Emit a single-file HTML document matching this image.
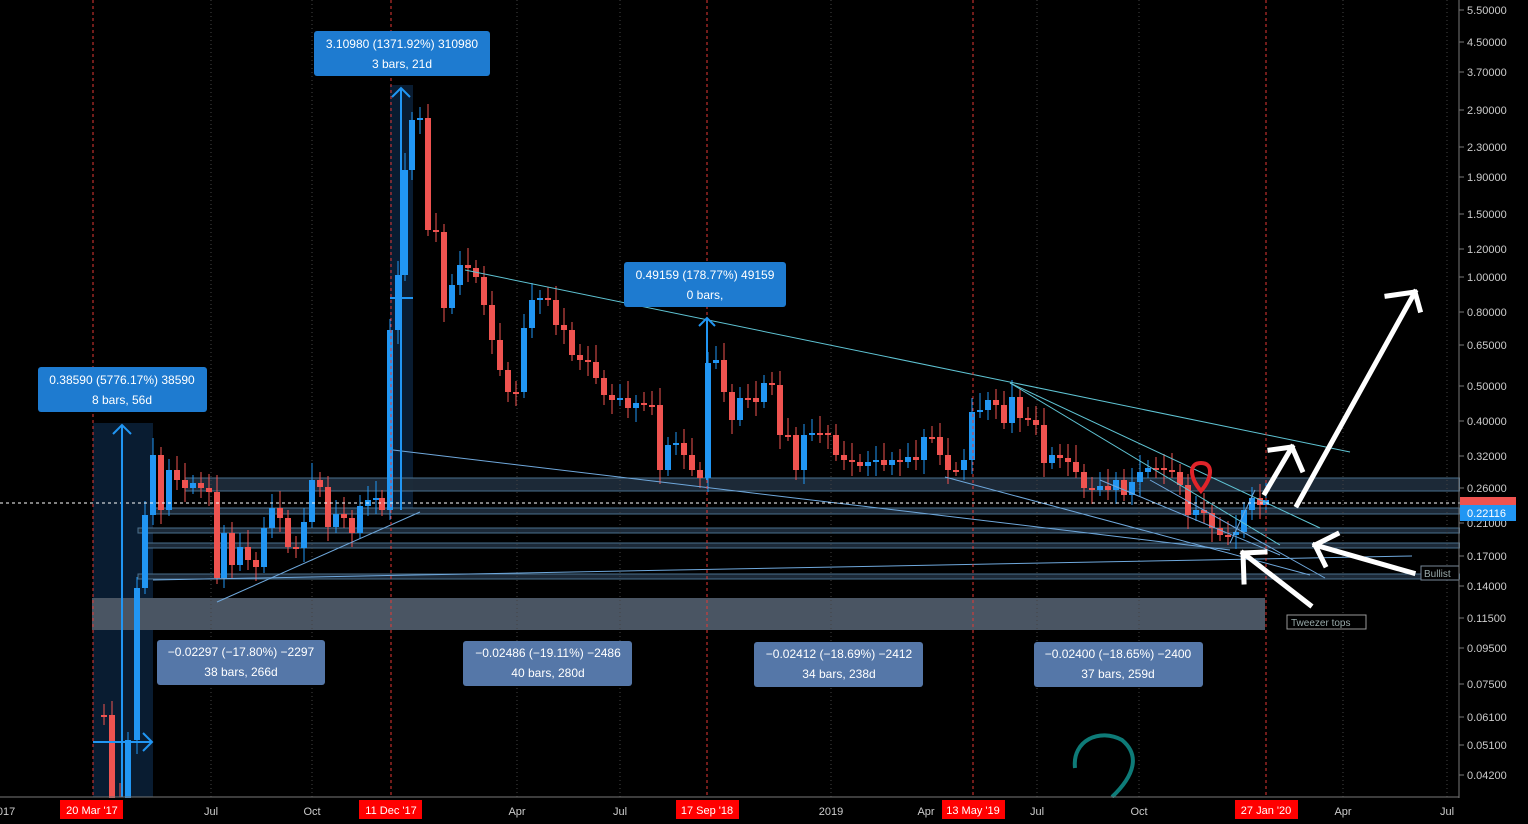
<!DOCTYPE html>
<html><head><meta charset="utf-8"><style>
html,body{margin:0;padding:0;background:#000;width:1528px;height:824px;overflow:hidden}
svg{display:block;font-family:"Liberation Sans",sans-serif}
</style></head><body>
<svg id="s" width="1528" height="824" viewBox="0 0 1528 824" xmlns="http://www.w3.org/2000/svg">
<rect width="1528" height="824" fill="#000"/>
<rect x="93" y="423" width="60" height="374" fill="#0a1f36" opacity="0.9"/>
<rect x="390" y="85" width="23" height="425" fill="#0a1f36" opacity="0.9"/>
<rect x="92" y="598" width="1173" height="32" fill="#4a5563"/>
<g fill="#1e2c3a" stroke="#4f7594" stroke-width="1" opacity="0.95">
<rect x="185" y="478" width="1275" height="13"/>
<rect x="153" y="508" width="1307" height="6"/>
<rect x="138" y="528" width="1322" height="5"/>
<rect x="146" y="543" width="1314" height="5"/>
<rect x="138" y="574" width="1322" height="5"/>
</g>
<g id="grid" stroke="#444" stroke-dasharray="1,3"></g>
<g id="c"></g>
<g stroke="#5fc4d4" stroke-width="1" fill="none">
<line x1="465" y1="270" x2="1350" y2="452"/>
<line x1="1010" y1="383" x2="1320" y2="528"/>
<line x1="1010" y1="383" x2="1280" y2="545"/>
</g>
<g stroke="#6fa8dc" stroke-width="1" fill="none">
<line x1="393" y1="450" x2="1230" y2="550"/>
<line x1="153" y1="580" x2="1412" y2="556"/>
<line x1="217" y1="602" x2="420" y2="512"/>
<line x1="945" y1="477" x2="1310" y2="575"/>
<line x1="1150" y1="480" x2="1325" y2="578"/>
<line x1="1100" y1="480" x2="1280" y2="555"/>
<line x1="1230" y1="543" x2="1255" y2="490"/>
</g>
<line x1="0" y1="503" x2="1460" y2="503" stroke="#fff" stroke-dasharray="3,3"/>
<g stroke="#e53935" stroke-dasharray="3,3">
<line x1="93" y1="0" x2="93" y2="797"/><line x1="391" y1="0" x2="391" y2="797"/>
<line x1="707" y1="0" x2="707" y2="797"/><line x1="973" y1="0" x2="973" y2="797"/>
<line x1="1266" y1="0" x2="1266" y2="797"/>
</g>
<g stroke="#2196f3" stroke-width="2" fill="none">
<line x1="122" y1="425" x2="122" y2="797"/><polyline points="113,434 122,425 131,434"/>
<line x1="93" y1="742" x2="152" y2="742"/><polyline points="143,733 152,742 143,751"/>
<line x1="401" y1="88" x2="401" y2="510"/><polyline points="392,97 401,88 410,97"/>
<line x1="390" y1="298" x2="413" y2="298"/>
<line x1="707" y1="318" x2="707" y2="480"/><polyline points="699,326 707,318 715,326"/>
</g>
<g font-size="12" fill="#fff" text-anchor="middle">
<rect x="38" y="367" width="169" height="45" rx="3" fill="#1e7bd0"/>
<text x="122" y="384">0.38590 (5776.17%) 38590</text><text x="122" y="404">8 bars, 56d</text>
<rect x="314" y="31" width="176" height="45" rx="3" fill="#1e7bd0"/>
<text x="402" y="48">3.10980 (1371.92%) 310980</text><text x="402" y="68">3 bars, 21d</text>
<rect x="624" y="262" width="162" height="45" rx="3" fill="#1e7bd0"/>
<text x="705" y="279">0.49159 (178.77%) 49159</text><text x="705" y="299">0 bars,</text>
<rect x="157" y="640" width="168" height="45" rx="3" fill="#5577a8"/>
<text x="241" y="656">−0.02297 (−17.80%) −2297</text><text x="241" y="676">38 bars, 266d</text>
<rect x="463" y="641" width="169" height="45" rx="3" fill="#5577a8"/>
<text x="548" y="657">−0.02486 (−19.11%) −2486</text><text x="548" y="677">40 bars, 280d</text>
<rect x="754" y="642" width="169" height="45" rx="3" fill="#5577a8"/>
<text x="839" y="658">−0.02412 (−18.69%) −2412</text><text x="839" y="678">34 bars, 238d</text>
<rect x="1034" y="642" width="169" height="45" rx="3" fill="#5577a8"/>
<text x="1118" y="658">−0.02400 (−18.65%) −2400</text><text x="1118" y="678">37 bars, 259d</text>
</g>
<g stroke="#fff" stroke-width="5" fill="none" stroke-linecap="square">
<line x1="1297" y1="505" x2="1415" y2="292"/><polyline points="1387,296 1415,292 1420,310"/>
<line x1="1265" y1="493" x2="1292" y2="447"/><polyline points="1270,450 1292,447 1302,470"/>
<line x1="1413" y1="573" x2="1315" y2="545"/><polyline points="1325,565 1315,545 1337,534"/>
<line x1="1310" y1="605" x2="1243" y2="553"/><polyline points="1244,582 1243,553 1265,552"/>
</g>
<path d="M1201,491 C1190,478 1188,463 1201,463 C1214,463 1212,478 1201,491Z" fill="none" stroke="#e0242a" stroke-width="4"/>
<path d="M1075,768 C1072,740 1100,728 1122,740 C1140,755 1135,775 1112,797" fill="none" stroke="#0e7b78" stroke-width="4"/>
<g font-size="10" fill="#9aa">
<rect x="1287" y="615" width="79" height="14" fill="#000" stroke="#999"/><text x="1291" y="626">Tweezer tops</text>
<rect x="1421" y="566" width="38" height="14" fill="#000" stroke="#789"/><text x="1424" y="577">Bullist</text>
</g>
<rect x="1460" y="0" width="68" height="824" fill="#000"/>
<line x1="1459" y1="0" x2="1459" y2="824" stroke="#777"/>
<rect x="0" y="798" width="1460" height="26" fill="#000"/>
<line x1="0" y1="797" x2="1459" y2="797" stroke="#777"/>
<g id="yax" font-size="11" fill="#ccc"></g>
<rect x="1460" y="497" width="56" height="9" fill="#ef5350"/>
<rect x="1460" y="505" width="56" height="16" fill="#2196f3"/>
<text x="1467" y="517" font-size="11" fill="#fff">0.22116</text>
<g font-size="11" fill="#ccc" text-anchor="middle">
<text x="6" y="815">017</text><text x="211" y="815">Jul</text><text x="312" y="815">Oct</text>
<text x="517" y="815">Apr</text><text x="620" y="815">Jul</text><text x="831" y="815">2019</text>
<text x="926" y="815">Apr</text><text x="1037" y="815">Jul</text><text x="1139" y="815">Oct</text>
<text x="1343" y="815">Apr</text><text x="1447" y="815">Jul</text>
</g>
<g font-size="11" fill="#fff" text-anchor="middle">
<rect x="60" y="800" width="63" height="19" fill="#f00"/><text x="92" y="814">20 Mar '17</text>
<rect x="359" y="800" width="63" height="19" fill="#f00"/><text x="391" y="814">11 Dec '17</text>
<rect x="676" y="800" width="63" height="19" fill="#f00"/><text x="707" y="814">17 Sep '18</text>
<rect x="942" y="800" width="63" height="19" fill="#f00"/><text x="973" y="814">13 May '19</text>
<rect x="1235" y="800" width="63" height="19" fill="#f00"/><text x="1266" y="814">27 Jan '20</text>
</g>
</svg>
<script>
(function(){
var NS="http://www.w3.org/2000/svg";
function el(p,t,a){var e=document.createElementNS(NS,t);for(var k in a)e.setAttribute(k,a[k]);p.appendChild(e);return e;}
var ticks=[["5.50000",10],["4.50000",42],["3.70000",72],["2.90000",110],["2.30000",147],["1.90000",177],["1.50000",214],["1.20000",249],["1.00000",277],["0.80000",312],["0.65000",345],["0.50000",386],["0.40000",421],["0.32000",456],["0.26000",488],["0.21000",523],["0.17000",556],["0.14000",586],["0.11500",618],["0.09500",648],["0.07500",684],["0.06100",717],["0.05100",745],["0.04200",775]];
var yg=document.getElementById("yax");
ticks.forEach(function(t){el(yg,"line",{x1:1459,y1:t[1],x2:1464,y2:t[1],stroke:"#777"});var tx=el(yg,"text",{x:1467,y:t[1]+4});tx.textContent=t[0];});
var g=document.getElementById("grid");
[211,312,517,620,831,1037,1139,1343,1447].forEach(function(x){el(g,"line",{x1:x,y1:0,x2:x,y2:797});});
var pts=[[96,715],[104,715],[112,800],[120,800],[128,740],[137,588],[145,515],[153,455],[161,510],[169,470],[177,480],[185,488],[193,483],[201,488],[209,492],[217,578],[224,533],[232,565],[240,547],[248,560],[256,567],[264,528],[272,508],[280,518],[288,547],[296,548],[304,522],[312,480],[320,487],[328,527],[336,514],[344,518],[352,533],[360,506],[368,500],[376,498],[382,510],[390,330],[398,275],[405,170],[412,120],[420,118],[428,230],[436,232],[444,308],[452,285],[460,265],[468,268],[476,277],[484,305],[492,340],[500,370],[508,392],[516,392],[524,328],[532,300],[540,298],[548,300],[556,325],[564,330],[572,355],[580,360],[588,362],[596,378],[604,395],[612,400],[620,398],[628,408],[636,403],[644,405],[652,405],[660,470],[668,445],[676,443],[684,455],[692,470],[700,478],[708,363],[716,360],[724,392],[732,420],[740,398],[748,398],[756,402],[764,383],[772,385],[780,435],[788,435],[796,470],[804,435],[812,433],[820,433],[828,435],[836,455],[844,460],[852,462],[860,466],[868,462],[876,460],[884,465],[892,460],[900,462],[908,457],[916,460],[924,437],[932,437],[940,455],[948,470],[956,470],[964,460],[972,412],[980,410],[988,400],[996,405],[1004,423],[1012,397],[1020,418],[1028,420],[1036,425],[1044,463],[1052,455],[1060,458],[1068,462],[1076,472],[1084,488],[1092,490],[1100,486],[1108,490],[1116,480],[1124,495],[1132,482],[1140,472],[1148,468],[1156,468],[1164,470],[1172,472],[1180,485],[1188,515],[1196,510],[1204,513],[1212,528],[1220,535],[1228,535],[1236,532],[1244,510],[1252,498],[1260,505],[1266,500]];
var c=document.getElementById("c");
for(var i=1;i<pts.length;i++){var o=pts[i-1][1],cl=pts[i][1],x=pts[i][0];var up=cl<o;var col=up?"#2196f3":"#ef5350";
var tp=Math.min(o,cl),bt=Math.max(o,cl);var h=Math.max(bt-tp,2);
el(c,"line",{x1:x,y1:tp-8-(i%4)*3,x2:x,y2:Math.min(bt+6+(i%3)*4,797),stroke:col,"stroke-width":1});
el(c,"rect",{x:x-3,y:tp,width:6,height:h,fill:col});}
})();
</script>
</body></html>
